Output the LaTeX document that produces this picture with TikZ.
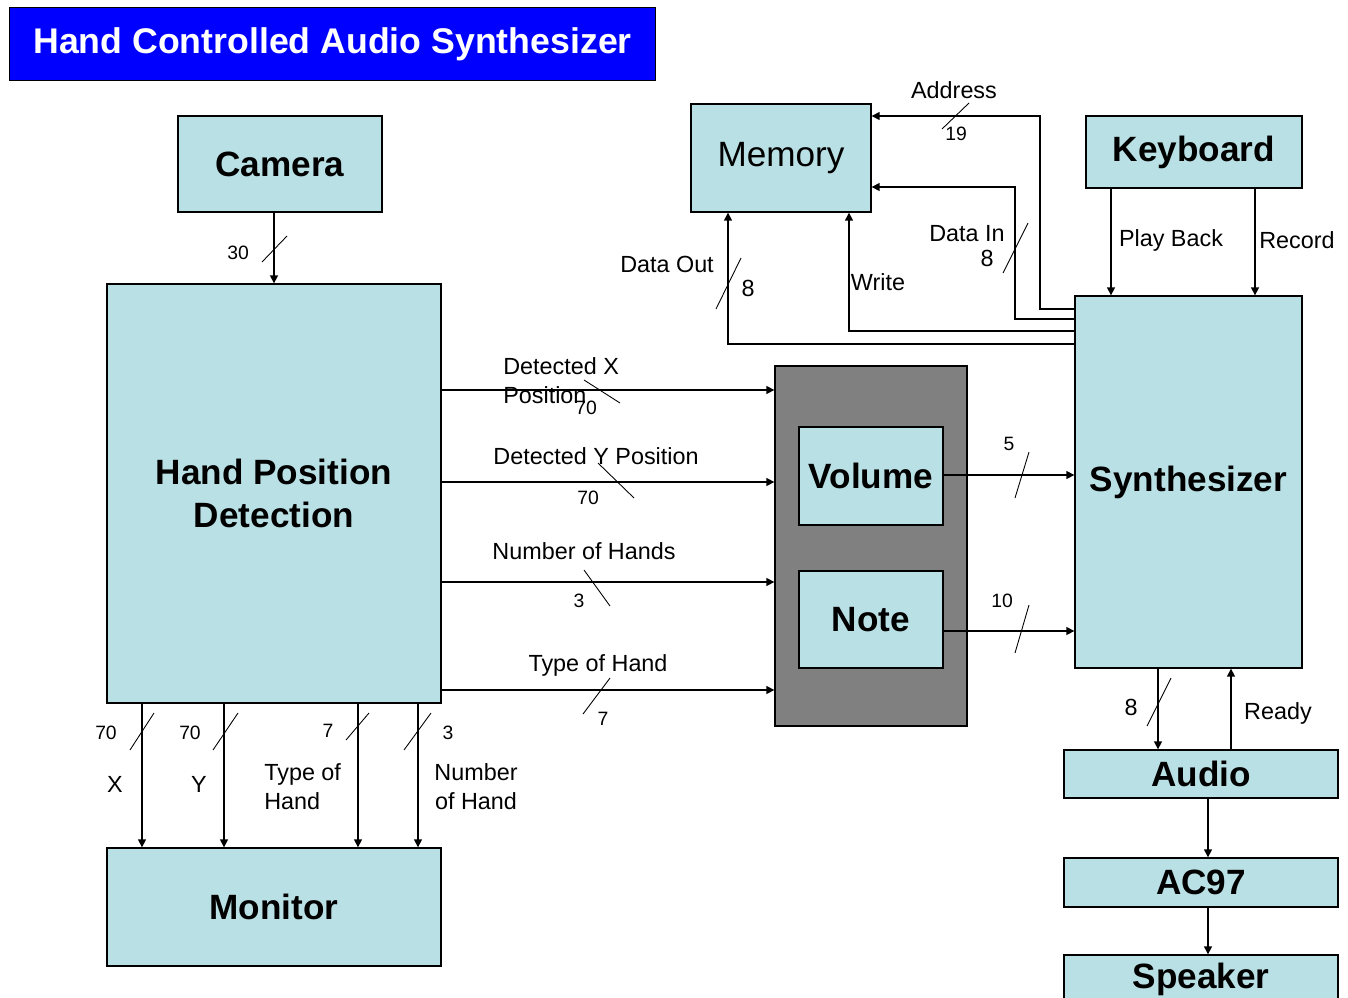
\documentclass[tikz,border=0pt]{standalone}
\usepackage{fontspec}
\setmainfont{Liberation Sans}
\usetikzlibrary{arrows.meta}
\definecolor{boxc}{RGB}{185,224,228}
\definecolor{grayc}{RGB}{128,128,128}
\definecolor{titlec}{RGB}{0,0,255}

\begin{document}
\begin{tikzpicture}[x=0.02cm, y=-0.02cm,
        blk/.style={draw, fill=boxc, line width=0.8pt, inner sep=0pt, align=center, font=\fontsize{20}{24.5}\selectfont\bfseries},
        lbl/.style={inner sep=0pt, font=\fontsize{13.3}{16.5}\selectfont},
        num/.style={inner sep=0pt, font=\fontsize{11}{12}\selectfont},
        sig/.style={-{Triangle[length=4.5pt,width=4.5pt]}, line width=0.8pt},
        bus/.style={line width=0.5pt}]
        \useasboundingbox (0,0) rectangle (1348,997);
        % titel
        \node [draw, fill=titlec, text=white, line width=0.6pt, minimum width=12.94cm, minimum height=1.46cm, font=\fontsize{20.3}{24}\selectfont\bfseries] (title) at (332.5,44) {Hand Controlled Audio Synthesizer};
        % blokken
        \node [blk, minimum width=4.08cm, minimum height=1.92cm] (cam) at (280,164) {Camera};
        \node [blk, minimum width=6.68cm, minimum height=8.38cm] (hpd) at (274,493.5) {Hand Position\\Detection};
        \node [blk, minimum width=6.68cm, minimum height=2.36cm] (mon) at (274,907) {Monitor};
        \node [blk, minimum width=3.6cm, minimum height=2.16cm, font=\fontsize{20}{24}\selectfont] (mem) at (781,158) {Memory};
        \node [blk, minimum width=4.32cm, minimum height=1.44cm] (kbd) at (1194,152) {Keyboard};
        \node [blk, minimum width=4.54cm, minimum height=7.44cm] (syn) at (1188.5,482) {Synthesizer};
        \node [draw, fill=grayc, line width=0.8pt, minimum width=3.84cm, minimum height=7.2cm] (grp) at (871,546) {};
        \node [blk, minimum width=2.88cm, minimum height=1.96cm] (vol) at (871,476) {Volume};
        \node [blk, minimum width=2.88cm, minimum height=1.94cm] (note) at (871,619.5) {Note};
        \node [blk, minimum width=5.48cm, minimum height=0.96cm] (aud) at (1201,774) {Audio};
        \node [blk, minimum width=5.48cm, minimum height=0.98cm] (ac) at (1201,882.5) {AC97};
        \node [blk, minimum width=5.48cm, minimum height=0.96cm] (spk) at (1201,979) {Speaker};
        % camera
        \draw [sig] (cam.south -| 274,0) -- (hpd.north -| 274,0);
        \draw [bus] (262,262) -- (287,236);
        \node [num] (n30) at (238,253) {30};
        % naar volume/note
        \draw [sig] (hpd.east |- 0,390) -- (grp.west |- 0,390);
        \draw [sig] (hpd.east |- 0,482) -- (grp.west |- 0,482);
        \draw [sig] (hpd.east |- 0,582) -- (grp.west |- 0,582);
        \draw [sig] (hpd.east |- 0,690) -- (grp.west |- 0,690);
        \draw [bus] (584,380) -- (620,403);
        \draw [bus] (598,463) -- (634,498);
        \draw [bus] (584,570) -- (610,606);
        \draw [bus] (583,714) -- (610,678);
        \node [lbl, anchor=west, align=left] (dx) at (503,380.5) {Detected X\\Position};
        \node [num] (n70a) at (586,408) {70};
        \node [lbl] (dy) at (596,456) {Detected Y Position};
        \node [num] (n70b) at (588,498) {70};
        \node [lbl] (nh) at (584,551) {Number of Hands};
        \node [num] (n3a) at (579,601) {3};
        \node [lbl] (th) at (598,665) {Type of Hand};
        \node [num] (n7a) at (603,719) {7};
        % naar monitor
        \foreach \x in {142,224,358,418}
            \draw [sig] (hpd.south -| \x,0) -- (mon.north -| \x,0);
        \draw [bus] (130,750) -- (154,713);
        \draw [bus] (213,750) -- (238,713);
        \draw [bus] (346,740) -- (369,713);
        \draw [bus] (404,750) -- (431,713);
        \node [num] (m70a) at (106,733) {70};
        \node [num] (m70b) at (190,733) {70};
        \node [num] (m7) at (328,731) {7};
        \node [num] (m3) at (448,733) {3};
        \node [lbl] (mx) at (115,784) {X};
        \node [lbl] (my) at (199,784) {Y};
        \node [lbl, anchor=west, align=left] (mt) at (264,787) {Type of\\Hand};
        \node [lbl, align=center] (mn) at (476,787) {Number\\of Hand};
        % naar synthesizer
        \draw [sig] (vol.east |- 0,475) -- (syn.west |- 0,475);
        \draw [sig] (note.east |- 0,631) -- (syn.west |- 0,631);
        \draw [bus] (1015,498) -- (1029,452);
        \draw [bus] (1015,653) -- (1029,605);
        \node [num] (n5) at (1009,444) {5};
        \node [num] (n10) at (1002,601) {10};
        % geheugen
        \draw [sig] (syn.west |- 0,309) -| (1040,116) -- (mem.east |- 0,116);
        \draw [sig] (syn.west |- 0,319) -| (1015,187) -- (mem.east |- 0,187);
        \draw [sig] (syn.west |- 0,331) -| (mem.south -| 849,0);
        \draw [sig] (syn.west |- 0,344) -| (mem.south -| 728,0);
        \draw [bus] (942,129) -- (969,103);
        \draw [bus] (1003,273) -- (1028,223);
        \draw [bus] (716,309) -- (741,258);
        \node [lbl] (adr) at (954,90) {Address};
        \node [num] (n19) at (956,134) {19};
        \node [lbl] (din) at (967,234) {Data In};
        \node [lbl] (n8a) at (987,258) {8};
        \node [lbl] (wr) at (878,282) {Write};
        \node [lbl] (dout) at (667,264) {Data Out};
        \node [lbl] (n8b) at (748,288) {8};
        % toetsenbord
        \draw [sig] (kbd.south -| 1111,0) -- (syn.north -| 1111,0);
        \draw [sig] (kbd.south -| 1255,0) -- (syn.north -| 1255,0);
        \node [lbl] (pb) at (1171,240) {Play Back};
        \node [lbl] (rec) at (1297,240) {Record};
        % audio
        \draw [sig] (syn.south -| 1158,0) -- (aud.north -| 1158,0);
        \draw [sig] (aud.north -| 1231,0) -- (syn.south -| 1231,0);
        \draw [bus] (1147,726) -- (1171,678);
        \node [lbl] (n8c) at (1131,707) {8};
        \node [lbl] (rdy) at (1278,713) {Ready};
        \draw [sig] (aud.south -| 1208,0) -- (ac.north -| 1208,0);
        \draw [sig] (ac.south -| 1208,0) -- (spk.north -| 1208,0);
\end{tikzpicture}
\end{document}
